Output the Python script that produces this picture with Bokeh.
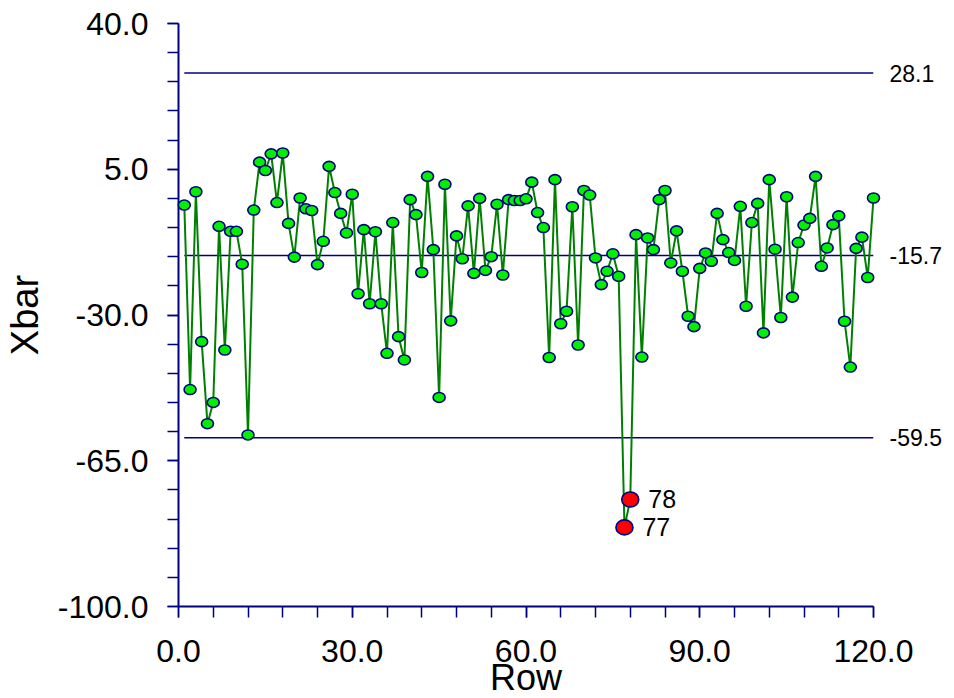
from bokeh.plotting import figure
from bokeh.models import FixedTicker, PrintfTickFormatter, ColumnDataSource
from bokeh.core.properties import value
from bokeh.embed import file_html
from bokeh.resources import INLINE

# ---- data ----
rows = list(range(1, 121))
xbar = [
    -3.6, -47.9, -0.4, -36.4, -56.1, -51.0, -8.7, -38.4, -9.9, -9.9,
    -17.8, -58.8, -4.8, 6.7, 4.7, 8.7, -3.0, 8.9, -8.0, -16.1,
    -1.9, -4.5, -4.9, -17.9, -12.3, 5.7, -0.6, -5.6, -10.3, -1.0,
    -24.9, -9.5, -27.3, -10.0, -27.3, -39.2, -7.8, -35.2, -40.8, -2.3,
    -5.9, -19.8, 3.3, -14.3, -49.8, 1.4, -31.4, -11.0, -16.5, -3.8,
    -20.0, -2.0, -19.3, -16.0, -3.4, -20.4, -2.3, -2.5, -2.5, -2.1,
    1.9, -5.4, -9.0, -40.2, 2.5, -32.1, -29.1, -4.0, -37.2, -0.1,
    -1.2, -16.3, -22.7, -19.5, -15.3, -20.7, -81.0, -74.3, -10.7, -40.1,
    -11.5, -14.3, -2.3, -0.1, -17.5, -9.8, -19.5, -30.3, -32.8, -18.8,
    -15.1, -17.1, -5.6, -11.9, -15.0, -16.9, -3.9, -27.9, -7.8, -3.2,
    -34.3, 2.5, -14.2, -30.6, -1.6, -25.7, -12.6, -8.4, -6.8, 3.3,
    -18.3, -13.9, -8.3, -6.2, -31.5, -42.5, -14.0, -11.3, -21.0, -1.9,
]
ucl = 28.1
center = -15.7
lcl = -59.5
limits = [ucl, center, lcl]
limit_labels = ["28.1", "-15.7", "-59.5"]
out_rows = [77, 78]
y_ticks = [-100, -65, -30, 5, 40]
y_minor = [-100 + 7 * i for i in range(21)]
x_ticks = [0, 30, 60, 90, 120]
x_minor = [6 * i for i in range(21)]
x_title = "Row"
y_title = "Xbar"

NAVY = "#000080"
FONT = "Liberation Sans"

p = figure(width=954, height=698, x_range=(0, 120), y_range=(-100, 40),
           output_backend="svg", toolbar_location=None,
           min_border_left=177, min_border_right=81,
           min_border_top=23, min_border_bottom=92)
p.outline_line_color = None
p.grid.visible = False
p.background_fill_color = "white"
p.border_fill_color = "white"

for ax in (p.xaxis[0], p.yaxis[0]):
    ax.axis_line_color = NAVY
    ax.axis_line_width = 2
    ax.major_tick_line_color = NAVY
    ax.minor_tick_line_color = NAVY
    ax.major_tick_line_width = 1.5
    ax.minor_tick_line_width = 1.5
    ax.major_tick_out = 11
    ax.major_tick_in = 0
    ax.minor_tick_out = 11
    ax.minor_tick_in = 0
    ax.major_label_text_font = FONT
    ax.major_label_text_font_size = "32px"
    ax.major_label_text_color = "black"
    ax.axis_label_text_font = FONT
    ax.axis_label_text_font_size = "38px"
    ax.axis_label_text_font_style = "normal"
    ax.axis_label_text_color = "black"
    ax.formatter = PrintfTickFormatter(format="%.1f")

p.yaxis[0].ticker = FixedTicker(ticks=y_ticks, minor_ticks=y_minor)
p.xaxis[0].ticker = FixedTicker(ticks=x_ticks, minor_ticks=x_minor)
p.yaxis[0].axis_label = y_title
p.yaxis[0].major_label_standoff = 19
p.yaxis[0].axis_label_standoff = 9
p.xaxis[0].major_label_standoff = 22

# x axis title drawn as text so it does not shrink the frame
p.text([(p.x_range.start + p.x_range.end) / 2], [p.y_range.start], text=[x_title],
       y_offset=71, text_baseline="alphabetic", text_align="center",
       text_font=value(FONT), text_font_size="36px", text_color="black",
       level="overlay")

# limit lines and their labels
for lv in limits:
    p.line([rows[0], rows[-1]], [lv, lv], line_color=NAVY, line_width=1.5)
p.text([rows[-1]] * len(limits), limits, text=limit_labels, x_offset=16,
       text_baseline="middle", text_align="left",
       text_font=value(FONT), text_font_size="23px", text_color="black",
       level="overlay")

src = ColumnDataSource(dict(x=rows, y=xbar))
p.line("x", "y", source=src, line_color="#008000", line_width=2, level="overlay")

in_x = [r for r in rows if r not in out_rows]
in_y = [v for r, v in zip(rows, xbar) if r not in out_rows]
p.ellipse(in_x, in_y, width=12, height=10, width_units="screen",
          height_units="screen", fill_color="#00F000",
          line_color=NAVY, line_width=1.6, level="overlay")

ox = [r for r in rows if r in out_rows]
oy = [v for r, v in zip(rows, xbar) if r in out_rows]
p.ellipse(ox, oy, width=17, height=15, width_units="screen",
          height_units="screen", fill_color="#FF0000",
          line_color=NAVY, line_width=1.6, level="overlay")
p.text(ox, oy, text=[str(r) for r in ox], x_offset=18,
       text_baseline="middle", text_align="left",
       text_font=value(FONT), text_font_size="25px", text_color="black",
       level="overlay")

open("out.html", "w").write(file_html(p, INLINE))
